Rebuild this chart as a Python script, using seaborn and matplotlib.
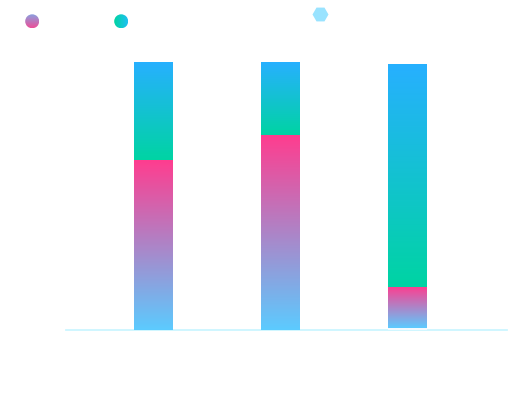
import numpy as np
import pandas as pd
import matplotlib
matplotlib.use("Agg")
import matplotlib.pyplot as plt
import seaborn as sns
from matplotlib.colors import LinearSegmentedColormap, to_rgb
from matplotlib.patches import Circle

# ---- data ----
categories = ["A", "B", "C"]
series_names = ["S3", "S1", "S2"]          # stacking order bottom -> top
s3_values = [0.0, 0.0, 1.7]               # hexagon series (tiny)
s1_values = [169.7, 194.7, 41.6]          # pink gradient series
s2_values = [98.0, 73.0, 222.7]           # teal gradient series

# gradient colors (bottom, top)
grad_colors = {
    "S3": ("#f2fbff", "#f2fbff"),
    "S1": ("#5ccbff", "#ff3d8f"),
    "S2": ("#00d4a3", "#27b0ff"),
}

sns.set_theme(style="white")
fig = plt.figure(figsize=(5.2, 4.01), dpi=100)
W, H = 520, 401
ax = fig.add_axes([66 / W, 71 / H, 441 / W, 290 / H])

values = {"S3": s3_values, "S1": s1_values, "S2": s2_values}
bottoms = np.zeros(len(categories))
bar_w = 0.307
for i, s in enumerate(series_names):
    vals = np.array(values[s])
    tops = bottoms + vals
    df = pd.DataFrame({"cat": categories, "top": tops})
    n_before = len(ax.patches)
    sns.barplot(data=df, x="cat", y="top", order=categories, width=bar_w,
                color="white", ax=ax, errorbar=None, zorder=2 + i)
    new_patches = ax.patches[n_before:]
    c0, c1 = grad_colors[s]
    cmap = LinearSegmentedColormap.from_list(s, [c0, c1])
    grad = np.linspace(0, 1, 256).reshape(-1, 1)
    for p, b, t in zip(new_patches, bottoms, tops):
        p.set_facecolor("none")
        p.set_edgecolor("none")
        if t - b <= 0:
            continue
        x0 = p.get_x()
        x1 = x0 + p.get_width()
        im = ax.imshow(grad, cmap=cmap, origin="lower", aspect="auto",
                       extent=(x0, x1, b, t), zorder=2 + i,
                       interpolation="bilinear")
        im.set_clip_path(p)
    bottoms = tops

ax.set_xlim(-0.690, 2.789)
ax.set_ylim(0, 290)
ax.set_xlabel("")
ax.set_ylabel("")
ax.set_xticks([])
ax.set_yticks([])
for side in ["top", "left", "right"]:
    ax.spines[side].set_visible(False)
ax.spines["bottom"].set_color("#ccf6ff")
ax.spines["bottom"].set_linewidth(1.3)
ax.spines["bottom"].set_zorder(1)
ax.patch.set_alpha(0)
fig.patch.set_facecolor("white")

# ---- legend markers ----
def grad_circle(cx, cy, d, c_a, c_b, vertical):
    ax_c = fig.add_axes([(cx - d / 2) / W, 1 - (cy + d / 2) / H, d / W, d / H])
    ax_c.set_axis_off()
    cm = LinearSegmentedColormap.from_list("c", [c_a, c_b])
    g = np.linspace(0, 1, 64)
    arr = g.reshape(-1, 1) if vertical else g.reshape(1, -1)
    im = ax_c.imshow(arr, cmap=cm, origin="upper", aspect="auto",
                     extent=(0, 1, 1, 0) if vertical else (0, 1, 0, 1),
                     interpolation="bilinear")
    circ = Circle((0.5, 0.5), 0.5, transform=ax_c.transAxes,
                  facecolor="none", edgecolor="none")
    ax_c.add_patch(circ)
    im.set_clip_path(circ)
    ax_c.set_xlim(0, 1)
    ax_c.set_ylim(1, 0) if vertical else ax_c.set_ylim(0, 1)

grad_circle(32.2, 21.3, 14, "#8aa0e0", "#ec4f98", True)
grad_circle(121.2, 21.3, 14, "#00d4a0", "#1ec0f2", False)

ax_h = fig.add_axes([0, 0, 1, 1])
ax_h.set_axis_off()
ax_h.set_xlim(0, W)
ax_h.set_ylim(H, 0)
ax_h.plot([319.5], [14.3], marker="H", markersize=11.5, color="#99e3ff",
          markeredgewidth=0, linestyle="none")

fig.savefig("out.png", dpi=100)
